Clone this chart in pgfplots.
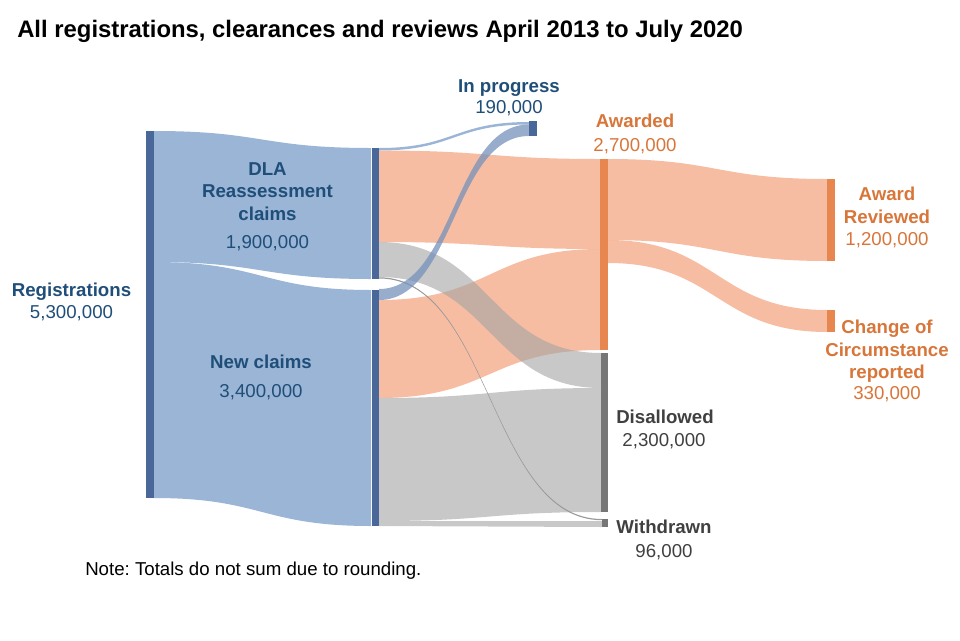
\documentclass[border=0pt]{standalone}
\usepackage{pgfplots}
\pgfplotsset{compat=1.18}
\usepackage{fontspec}
\setmainfont{Liberation Sans}
\frenchspacing

\definecolor{barblue}{HTML}{4A6799}
\definecolor{barorange}{HTML}{E8864F}
\definecolor{bargray}{HTML}{767676}
\definecolor{flowblue}{HTML}{9AB5D5}
\definecolor{floworange}{HTML}{F29164}
\definecolor{flowgray}{HTML}{A3A3A3}
\definecolor{txtblue}{HTML}{1F4E79}
\definecolor{txtorange}{HTML}{D8763A}
\definecolor{txtgray}{HTML}{404040}

\tikzset{
  lab/.style={font=\fontsize{14}{16}\selectfont, anchor=base, inner sep=0pt},
  blab/.style={lab, font=\bfseries\fontsize{14}{16}\selectfont}}

% band from (x1, top1..bot1) to (x2, top2..bot2), control points at xm
\newcommand{\band}[8]{%
  \fill[#8] (#1,#2) .. controls (#7,#2) and (#7,#5) .. (#4,#5)
    -- (#4,#6) .. controls (#7,#6) and (#7,#3) .. (#1,#3) -- cycle;}

\begin{document}
\begin{tikzpicture}
\begin{axis}[scale only axis, width=720pt, height=480pt,
  xmin=0, xmax=960, ymin=0, ymax=640, y dir=reverse,
  hide axis, clip=false]

\path (0,0) rectangle (960,640);
\coordinate (SW) at (0,640);
\coordinate (NE) at (960,0);

% flows: registrations
\band{154}{131}{262}{371}{148}{279}{262}{flowblue}
\band{154}{262}{498}{371}{290}{526}{262}{flowblue}
% flows: DLA reassessment
\band{379}{148}{150.5}{529}{122}{124.5}{454}{flowblue}
\band{379}{150.5}{242}{600}{159}{249}{490}{floworange, opacity=0.6}
% flows: new claims
\band{379}{300}{398}{600}{249}{350}{490}{floworange, opacity=0.6}
\band{379}{242}{277}{601}{353}{388}{490}{flowgray, opacity=0.6}
\band{379}{398}{521}{601}{388}{512}{490}{flowgray, opacity=0.6}
\band{379}{521}{526}{602}{521}{527}{490}{flowgray, opacity=0.6}
\band{379}{277.3}{278.5}{602}{519}{520.2}{490}{black!40}
\band{379}{289}{300}{529}{124.5}{136}{454}{flowblue!55!barblue, opacity=0.75}
% flows: awarded
\band{608}{159}{240}{827}{179}{261}{717}{floworange, opacity=0.6}
\band{608}{240}{263}{827}{310}{332}{717}{floworange, opacity=0.6}

% nodes
\addplot[draw=none, fill=barblue] coordinates {(146,131) (154,131) (154,498) (146,498)};
\addplot[draw=none, fill=barblue] coordinates {(372,148) (379,148) (379,279) (372,279)};
\addplot[draw=none, fill=barblue] coordinates {(372,290) (379,290) (379,526) (372,526)};
\addplot[draw=none, fill=barblue] coordinates {(529,121) (537,121) (537,136) (529,136)};
\addplot[draw=none, fill=barorange] coordinates {(600,159) (608,159) (608,350) (600,350)};
\addplot[draw=none, fill=bargray] coordinates {(601,353) (608,353) (608,512) (601,512)};
\addplot[draw=none, fill=bargray] coordinates {(602,519) (608,519) (608,527) (602,527)};
\addplot[draw=none, fill=barorange] coordinates {(827,179) (835,179) (835,261) (827,261)};
\addplot[draw=none, fill=barorange] coordinates {(827,310) (835,310) (835,332) (827,332)};

% labels
\node[anchor=base west, inner sep=0pt, font=\bfseries\fontsize{17.9}{20}\selectfont] at (17,37)
  {All registrations, clearances and reviews April 2013 to July 2020};

\node[blab, text=txtblue] at (71.5,296) {Registrations};
\node[lab, text=txtblue] at (71.5,318) {5,300,000};

\node[blab, text=txtblue] at (267.5,175) {DLA};
\node[blab, text=txtblue] at (267.5,197) {Reassessment};
\node[blab, text=txtblue] at (267.5,220) {claims};
\node[lab, text=txtblue] at (267.5,248) {1,900,000};

\node[blab, text=txtblue] at (261,368) {New claims};
\node[lab, text=txtblue] at (261,397) {3,400,000};

\node[blab, text=txtblue] at (509,92) {In progress};
\node[lab, text=txtblue] at (509,113) {190,000};

\node[blab, text=txtorange] at (635,127) {Awarded};
\node[lab, text=txtorange] at (635,151) {2,700,000};

\node[blab, text=txtorange] at (887,200) {Award};
\node[blab, text=txtorange] at (887,223) {Reviewed};
\node[lab, text=txtorange] at (887,245) {1,200,000};

\node[blab, text=txtorange] at (887,333) {Change of};
\node[blab, text=txtorange] at (887,356) {Circumstance};
\node[blab, text=txtorange] at (887,378) {reported};
\node[lab, text=txtorange] at (887,399) {330,000};

\node[blab, text=txtgray] at (665,423) {Disallowed};
\node[lab, text=txtgray] at (664,446) {2,300,000};
\node[blab, text=txtgray] at (664,533) {Withdrawn};
\node[lab, text=txtgray] at (664,557) {96,000};

\node[anchor=base west, inner sep=0pt, font=\fontsize{14}{16}\selectfont] at (85,575)
  {Note: Totals do not sum due to rounding.};
\end{axis}
\pgfresetboundingbox
\path (SW) rectangle (NE);
\end{tikzpicture}
\end{document}
